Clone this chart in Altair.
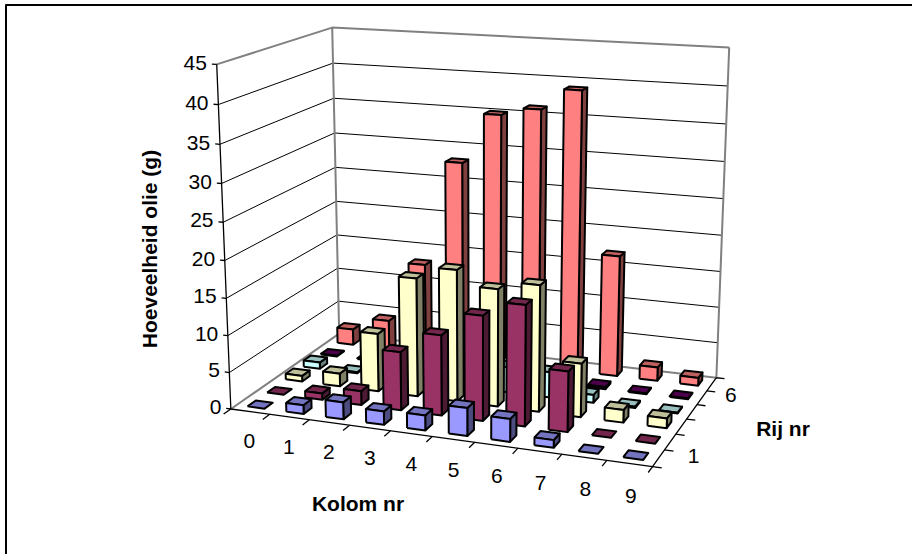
import altair as alt
import numpy as np
import pandas as pd

# Amount of oil (g) per row (front to back) and column 0-9
COLUMNS = list(range(10))
ROW_1 = [0.0, 1.2, 2.3, 1.8, 2.0, 3.7, 3.0, 1.0, 0.0, 0.0]
ROW_2 = [0.0, 0.9, 1.9, 7.9, 10.8, 14.0, 16.0, 8.0, 0.0, 0.0]
ROW_3 = [0.8, 1.8, 8.0, 16.2, 17.9, 15.9, 17.0, 7.2, 1.7, 1.3]
ROW_4 = [0.9, 0.15, 0.0, 0.0, 0.0, 3.5, 3.5, 1.1, 0.2, 0.1]
ROW_5 = [0.1, 0.1, 0.0, 0.0, 0.0, 0.0, 0.0, 0.3, 0.1, 0.1]
ROW_6 = [2.3, 4.2, 13.0, 28.0, 35.0, 36.1, 39.0, 16.9, 1.9, 1.1]
ROWS = [ROW_1, ROW_2, ROW_3, ROW_4, ROW_5, ROW_6]
ROW_COLORS = ["#9999FF", "#993366", "#FFFFCC", "#CCFFFF", "#660066", "#FF8080"]

Y_TICKS = list(range(0, 50, 5))
TITLE_Y = "Hoeveelheid olie (g)"
TITLE_X = "Kolom nr"
TITLE_Z = "Rij nr"
FONT = "Liberation Sans"
W, H = 912, 554
BAR_WIDTH = 0.44
BAR_DEPTH = 0.42

# Perspective camera calibrated on the box corners: (column, row, value) -> screen
BOX = [
    ((0, 0, 0), (232, 408)), ((10, 0, 0), (652, 468)), ((10, 6, 0), (717, 376)),
    ((0, 6, 0), (338, 335)), ((0, 0, 45), (216, 64)), ((0, 6, 45), (333, 27.5)),
    ((10, 6, 45), (729, 48)),
]


def fit_camera(pairs):
    rows, rhs = [], []
    for (a, b, c), (u, v) in pairs:
        rows.append([a, b, c, 1, 0, 0, 0, 0, -u * a, -u * b, -u * c])
        rows.append([0, 0, 0, 0, a, b, c, 1, -v * a, -v * b, -v * c])
        rhs += [u, v]
    sol = np.linalg.lstsq(np.array(rows, float), np.array(rhs, float), rcond=None)[0]
    return np.append(sol, 1.0).reshape(3, 4)


CAMERA = fit_camera(BOX)


def project(col, row, val):
    p = CAMERA @ np.array([col, row, val, 1.0])
    return p[0] / p[2], p[1] / p[2]


def shade(hex_color, factor):
    rgb = [int(hex_color[i:i + 2], 16) for i in (1, 3, 5)]
    return "#%02x%02x%02x" % tuple(round(v * factor) for v in rgb)


def polyline(store, points, fill, stroke, width):
    key = len({r["id"] for r in store})
    for i, (c, r, v) in enumerate(points):
        x, y = project(c, r, v)
        store.append({"id": key, "i": i, "x": x, "y": y, "fill": fill, "stroke": stroke, "sw": width})


# Walls, gridlines and axes
frame = []
for v in Y_TICKS[1:]:
    gray = v == 45
    polyline(frame, [(0, 0, v), (0, 6, v), (10, 6, v)], "transparent", "#808080" if gray else "#000000", 2 if gray else 1)
polyline(frame, [(0, 0, 0), (0, 6, 0), (10, 6, 0), (10, 6, 45)], "transparent", "#808080", 2)
polyline(frame, [(0, 6, 0), (0, 6, 45)], "transparent", "#808080", 2)
polyline(frame, [(0, 0, 45), (0, 0, 0), (10, 0, 0), (10, 6, 0)], "transparent", "#000000", 1.3)
for v in Y_TICKS:
    polyline(frame, [(0, 0, v), (-0.12, 0, v)], "transparent", "#000000", 1.3)
for c in range(11):
    polyline(frame, [(c, 0, 0), (c, -0.35, 0)], "transparent", "#000000", 1.3)
for r in range(7):
    polyline(frame, [(10, r, 0), (10.2, r, 0)], "transparent", "#000000", 1.3)

# Bars, painted back to front and left to right
bars = []
mx, my = (1 - BAR_WIDTH) / 2, (1 - BAR_DEPTH) / 2
for r in range(5, -1, -1):
    color = ROW_COLORS[r]
    for c in COLUMNS:
        v = ROWS[r][c]
        x0, x1 = c + mx, c + 1 - mx
        y0, y1 = r + my, r + 1 - my
        if v > 0:
            polyline(bars, [(x1, y0, 0), (x1, y1, 0), (x1, y1, v), (x1, y0, v), (x1, y0, 0)], shade(color, 0.5), "#000000", 2)
        polyline(bars, [(x0, y0, v), (x1, y0, v), (x1, y1, v), (x0, y1, v), (x0, y0, v)], shade(color, 0.75), "#000000", 2)
        if v > 0:
            polyline(bars, [(x0, y0, 0), (x1, y0, 0), (x1, y0, v), (x0, y0, v), (x0, y0, 0)], color, "#000000", 2)

# Tick labels
labels = []
for v in Y_TICKS:
    x, y = project(-0.22, 0, v)
    labels.append({"x": x - 1, "y": y, "t": str(v), "align": "right"})
for c in COLUMNS:
    x, y = project(0.96 * c + 1.36, -1.7, 0)
    labels.append({"x": x, "y": y, "t": str(c), "align": "center"})
for c, r, t in ((10.68, 0.85, "1"), (10.6, 4.87, "6")):
    x, y = project(c, r, 0)
    labels.append({"x": x, "y": y, "t": t, "align": "center"})

X = alt.X("x:Q", scale=alt.Scale(domain=[0, W]), axis=None)
Y = alt.Y("y:Q", scale=alt.Scale(domain=[H, 0]), axis=None)


def polys(store):
    return alt.Chart(pd.DataFrame(store)).mark_line(strokeJoin="round", interpolate="linear").encode(
        x=X, y=Y, order="i:Q", detail="id:N",
        fill=alt.Fill("fill:N", scale=None), stroke=alt.Stroke("stroke:N", scale=None),
        strokeWidth=alt.StrokeWidth("sw:Q", scale=None),
    )


# Sheet border: left and top edges only
edges = [{"id": 0, "i": 0, "x": 6, "y": 554, "fill": "transparent", "stroke": "#000000", "sw": 2},
         {"id": 0, "i": 1, "x": 6, "y": 5, "fill": "transparent", "stroke": "#000000", "sw": 2},
         {"id": 0, "i": 2, "x": 912, "y": 5, "fill": "transparent", "stroke": "#000000", "sw": 2}]

left_text = pd.DataFrame([l for l in labels if l["align"] == "right"])
center_text = pd.DataFrame([l for l in labels if l["align"] == "center"])


def tick_text(df, align):
    return alt.Chart(df).mark_text(font=FONT, fontSize=21, align=align, baseline="middle", color="black").encode(x=X, y=Y, text="t:N")


def title_text(x, y, t, angle=0):
    return alt.Chart(pd.DataFrame({"x": [x], "y": [y], "t": [t]})).mark_text(
        font=FONT, fontSize=21, fontWeight="bold", angle=angle, align="center", baseline="middle", color="black"
    ).encode(x=X, y=Y, text="t:N")


chart = alt.layer(
    polys(edges), polys(frame), polys(bars),
    tick_text(left_text, "right"), tick_text(center_text, "center"),
    title_text(151, 249, TITLE_Y, 270), title_text(358, 505, TITLE_X), title_text(783, 430, TITLE_Z),
).properties(width=W, height=H, padding=0, autosize=alt.AutoSizeParams(type="none")).configure_view(stroke=None)

chart.save("out.html", embed_options={"renderer": "svg", "actions": False})
